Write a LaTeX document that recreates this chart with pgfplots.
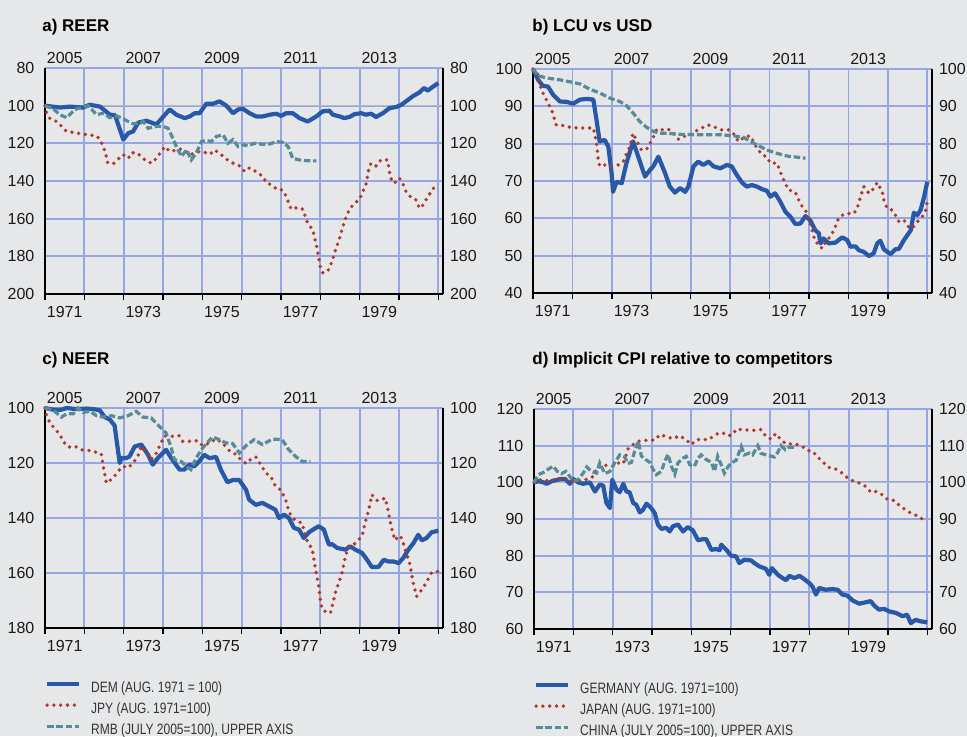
\documentclass[border=0pt]{standalone}
\usepackage{pgfplots}
\pgfplotsset{compat=1.18}
\usepackage{fontspec}
\setmainfont{Liberation Sans}
\newfontfamily\condensed[FakeStretch=0.8]{Liberation Sans}

\definecolor{bgc}{RGB}{230,231,233}
\definecolor{gridc}{RGB}{150,165,227}
\definecolor{demblue}{RGB}{40,88,168}
\definecolor{jpyred}{RGB}{178,56,44}
\definecolor{rmbteal}{RGB}{86,140,152}

\pgfplotsset{
  panel/.style={
    scale only axis, width=199pt,
    xmin=0, xmax=10.12, clip=false,
    /pgf/number format/assume math mode=true,
    tick label style={font=\fontsize{8}{9}\selectfont, text=black!90},
  },
  lower/.style={
    panel,
    axis x line*=bottom, axis y line*=left,
    axis line style={black, line width=0.7pt},
    xtick={0,1,2,3,4,5,6,7,8,9,10}, xticklabels={},
    tick align=outside, major tick length=3pt,
    xtick style={black, line width=0.7pt},
    ytick style={draw=none},
    xmajorgrids, ymajorgrids,
    grid style={gridc, line width=0.9pt},
    extra x ticks={0.5,2.5,4.5,6.5,8.5},
    extra x tick labels={1971,1973,1975,1977,1979},
    extra x tick style={major tick length=0pt, grid=none, xticklabel style={yshift=-2.5pt}},
    yticklabel style={xshift=1.2pt},
    title style={inner sep=0pt, anchor=base west, font=\bfseries\fontsize{8.5}{10}\selectfont},
  },
  upper/.style={
    panel,
    axis x line*=top, axis y line*=right,
    x axis line style={draw=none},
    y axis line style={black, line width=0.7pt},
    xtick={0.5,2.5,4.5,6.5,8.5},
    xticklabels={2005,2007,2009,2011,2013},
    xticklabel style={yshift=-1.5pt},
    major tick length=0pt,
    xtick style={draw=none}, ytick style={draw=none},
  },
  leg/.style={
    legend style={at={(0,-0.245)}, anchor=north west, draw=none, fill=none,
      inner sep=0pt, outer sep=0pt, row sep=3.7pt, column sep=5pt,
      font=\condensed\fontsize{7.5}{8}\selectfont, text=black!80,
      nodes={inner sep=0pt, text height=5.2pt, text depth=1.6pt}},
    legend cell align=left,
    legend image code/.code={\draw[##1] (0pt,2.5pt) -- (16pt,2.5pt);},
  },
  dem/.style={demblue, line width=2.1pt, line join=round},
  jpy/.style={jpyred, line width=1.9pt, line cap=round, dash pattern=on 0pt off 3.4pt},
  rmb/.style={rmbteal, line width=1.6pt, dash pattern=on 3.2pt off 1.4pt},
}

\begin{document}
\begin{tikzpicture}
\fill[bgc] (0,0) rectangle (483.5pt,368pt);
\path[use as bounding box] (0,0) rectangle (483.5pt,368pt);

% ---------------- a) REER
\begin{axis}[lower, at={(22.5pt,221pt)}, anchor=south west, height=113pt,
  ymin=80, ymax=200, y dir=reverse, ytick={80,100,...,200},
  extra y ticks={100}, extra y tick labels={}, extra y tick style={grid style={gray!55, line width=0.8pt}},
  title={a) REER}, title style={at={(0,1)}, yshift=12.5pt, xshift=-1.5pt}]
\addplot[dem] coordinates {(0,100) (0.38,101) (0.63,100.5) (0.97,101) (1.14,99.5) (1.40,100.5) (1.65,104.8) (1.78,105) (1.99,118) (2.12,114.6) (2.24,113.7) (2.37,109) (2.58,108) (2.71,109) (2.83,110) (3.17,102) (3.34,104.8) (3.55,106.6) (3.68,105.7) (3.81,104) (3.93,104) (4.10,99) (4.27,99) (4.44,97.7) (4.61,100) (4.78,104) (4.91,102) (5.03,101.6) (5.20,104) (5.37,105.7) (5.54,105.7) (5.71,104.8) (5.88,104.3) (6.01,105.4) (6.13,104) (6.30,104) (6.47,106.6) (6.68,108.4) (6.90,105.7) (7.06,103) (7.23,102.7) (7.32,104.8) (7.49,105.7) (7.61,106.6) (7.74,106) (7.87,104.5) (8.04,104) (8.16,104.8) (8.29,104.3) (8.42,106) (8.59,104) (8.76,101.3) (8.93,100.7) (9.05,99.7) (9.18,97.7) (9.35,95) (9.52,93) (9.64,90.6) (9.73,92) (9.86,90) (10.0,88)};
\addplot[jpy] coordinates {(0,100) (0.04,103.6) (0.13,107) (0.30,108.4) (0.42,111) (0.55,113.7) (0.72,114.2) (0.93,115) (1.10,115.5) (1.31,116) (1.40,118) (1.48,121.7) (1.55,126) (1.58,130) (1.73,131) (1.86,128.4) (1.99,126) (2.12,128) (2.20,125) (2.33,125) (2.45,127) (2.58,129.6) (2.71,130.5) (2.83,128) (2.96,124.3) (3.05,121.7) (3.17,124.3) (3.30,123.8) (3.43,123) (3.55,123.8) (3.68,126) (3.93,124.3) (4.06,124.8) (4.19,125.8) (4.31,123.5) (4.48,126) (4.61,128.4) (4.78,130.5) (4.95,132) (5.08,135) (5.20,133) (5.37,135) (5.54,137.6) (5.63,141) (5.75,142) (5.92,144.7) (6.03,144.7) (6.13,148) (6.26,155) (6.43,154) (6.56,155) (6.62,159) (6.68,162.4) (6.81,166) (6.90,174) (6.96,181) (7.00,185.5) (7.06,188.7) (7.19,188) (7.28,183.7) (7.36,178.4) (7.49,170.4) (7.61,161.6) (7.74,155) (7.87,151.8) (7.99,150) (8.08,145.6) (8.16,142) (8.23,134) (8.29,130.5) (8.42,132) (8.54,128.8) (8.71,128.8) (8.77,136.7) (8.84,141) (8.93,140.5) (9.01,138.5) (9.09,141) (9.18,145.6) (9.31,148.8) (9.43,150) (9.52,154.5) (9.62,152.6) (9.73,148.3) (9.86,144.7) (9.94,141)};
\addplot[rmb] coordinates {(0,100) (0.21,101.7) (0.38,104.8) (0.55,106.4) (0.68,103.7) (0.76,102) (0.93,101) (1.10,100) (1.31,104.8) (1.48,104) (1.65,106.4) (1.82,105.5) (1.95,106.6) (2.12,108.4) (2.24,109.6) (2.41,109.3) (2.50,108.4) (2.62,112) (2.83,111) (3.00,111) (3.13,112) (3.21,115.5) (3.34,121.7) (3.47,127) (3.60,123.4) (3.72,128.8) (3.85,125) (3.98,119) (4.10,118.5) (4.23,119) (4.36,116.3) (4.53,115.5) (4.65,120) (4.78,118) (4.91,121.7) (5.03,120.8) (5.16,121.3) (5.33,120) (5.54,120.5) (5.71,120.4) (5.88,119) (6.05,119.5) (6.18,121.7) (6.30,128) (6.47,128.8) (6.60,129.1) (6.77,129.3) (6.90,129.3)};
\end{axis}
\begin{axis}[upper, at={(22.5pt,221pt)}, anchor=south west, height=113pt,
  ymin=80, ymax=200, y dir=reverse, ytick={80,100,...,200}]
\end{axis}

% ---------------- b) LCU vs USD
\begin{axis}[lower, at={(266.5pt,221.5pt)}, anchor=south west, width=199.5pt, height=112pt,
  ymin=40, ymax=100, ytick={40,50,...,100},
  title={b) LCU vs USD}, title style={at={(0,1)}, yshift=13pt, xshift=-0.5pt}]
\addplot[dem] coordinates {(0,100) (0.13,97.1) (0.25,95.5) (0.38,95.3) (0.51,93.1) (0.68,91.3) (0.85,91.2) (1.02,90.7) (1.19,91.8) (1.36,92) (1.53,91.8) (1.61,86.4) (1.69,80.6) (1.82,81) (1.91,79.2) (1.99,72.5) (2.03,67.1) (2.12,69.8) (2.25,69.4) (2.37,74.8) (2.54,80.6) (2.67,76.5) (2.84,71.2) (2.97,73) (3.05,73.9) (3.18,76.5) (3.35,72.1) (3.47,68.5) (3.60,66.9) (3.73,68.1) (3.86,67.1) (3.94,68.5) (4.07,73.9) (4.19,75.2) (4.32,74.3) (4.45,75.2) (4.58,73.9) (4.75,73.4) (4.92,74.3) (5.04,73.9) (5.17,71.6) (5.30,69.6) (5.42,68.5) (5.55,68.9) (5.68,68.5) (5.81,67.8) (5.93,67.4) (6.02,65.8) (6.14,66.7) (6.27,64.5) (6.40,61.8) (6.53,60.4) (6.65,58.5) (6.78,58.6) (6.91,60.6) (7.03,59.5) (7.16,56.8) (7.25,56) (7.29,53.3) (7.37,54.6) (7.50,53.3) (7.67,53.5) (7.84,54.9) (7.97,54.2) (8.05,52.4) (8.18,52.5) (8.26,51.5) (8.39,51) (8.52,49.9) (8.64,50.6) (8.73,53.3) (8.81,54) (8.90,51.7) (9.07,50.4) (9.19,51.7) (9.28,51.8) (9.41,54.2) (9.58,56.8) (9.66,61.5) (9.75,60.9) (9.83,62.2) (9.92,65.8) (10.0,69.8)};
\addplot[jpy] coordinates {(0,100) (0.13,98.5) (0.21,94.4) (0.38,90.9) (0.47,89.1) (0.59,85) (0.81,84.8) (0.97,84.3) (1.19,84.2) (1.36,84.2) (1.53,84.2) (1.57,82.4) (1.61,80.1) (1.65,76.1) (1.69,74) (1.82,74.3) (1.99,74) (2.16,74.3) (2.29,75.2) (2.37,77.3) (2.46,79.2) (2.53,82.8) (2.58,81.9) (2.67,79.9) (2.75,78.3) (2.88,78.5) (2.97,80.1) (3.05,81.7) (3.14,83.9) (3.31,83.7) (3.43,83.9) (3.56,82.8) (3.69,81.2) (3.81,81.9) (3.98,82.4) (4.11,83.3) (4.28,84.2) (4.45,85) (4.58,84.6) (4.75,83.7) (4.96,83.7) (5.08,82.8) (5.21,80.6) (5.38,81.9) (5.51,82.1) (5.68,78.8) (5.81,77) (5.93,76.5) (6.02,74.8) (6.19,74.8) (6.31,71.4) (6.40,69.4) (6.48,67.6) (6.65,67.1) (6.74,64.9) (6.82,63.3) (6.91,62.2) (6.99,60) (7.08,56.8) (7.16,53.7) (7.25,53.1) (7.33,51.9) (7.42,53.7) (7.54,55.1) (7.63,56.8) (7.75,60) (7.88,61.1) (8.01,61.3) (8.14,61.3) (8.22,62.7) (8.32,66.2) (8.39,68.5) (8.52,66.7) (8.64,68) (8.73,69.6) (8.86,67.1) (8.90,64.9) (8.98,62.7) (9.11,62.2) (9.19,60.9) (9.28,59.1) (9.41,59.5) (9.53,57.6) (9.62,57.3) (9.75,59.1) (9.87,60.4) (9.96,62.2) (10.0,64.5)};
\addplot[rmb] coordinates {(0,100) (0.13,98.2) (0.34,97.6) (0.68,97.1) (1.02,96.4) (1.19,96) (1.44,94.6) (1.69,93.6) (1.95,92.2) (2.20,91.3) (2.37,90.2) (2.54,88.2) (2.71,85.9) (2.88,84.4) (3.05,83.3) (3.22,82.8) (3.39,82.8) (3.73,82.5) (4.07,82.4) (4.41,82.4) (4.75,82.4) (5.08,82.1) (5.34,81.7) (5.51,80.6) (5.68,79.7) (5.93,78.3) (6.19,77.4) (6.44,76.7) (6.69,76.4) (6.91,76.1)};
\end{axis}
\begin{axis}[upper, at={(266.5pt,221.5pt)}, anchor=south west, width=199.5pt, height=112pt,
  ymin=40, ymax=100, ytick={40,50,...,100}]
\end{axis}

% ---------------- c) NEER
\begin{axis}[lower, leg, at={(22.5pt,54pt)}, anchor=south west, height=110pt,
  ymin=100, ymax=180, y dir=reverse, ytick={100,120,...,180},
  title={c) NEER}, title style={at={(0,1)}, yshift=16pt, xshift=-1.5pt}]
\addplot[dem] coordinates {(0,100) (0.21,100.6) (0.42,100.6) (0.55,100) (0.80,100.4) (1.05,100.2) (1.22,100.4) (1.39,100.8) (1.52,103.3) (1.65,104.2) (1.77,106.4) (1.90,120) (1.94,118.2) (2.07,118.2) (2.15,117.6) (2.28,114) (2.45,113.3) (2.62,117) (2.74,120.6) (2.87,118.2) (3.08,115.2) (3.21,118.2) (3.42,122.4) (3.54,122.4) (3.67,120.6) (3.80,121.2) (3.92,119.4) (4.05,117) (4.18,118.2) (4.35,117.8) (4.47,122.4) (4.64,127) (4.77,126.2) (4.94,126.2) (5.11,129.7) (5.19,133.3) (5.36,135.2) (5.53,134.5) (5.70,135.8) (5.86,137) (5.95,140) (6.08,138.8) (6.20,140) (6.33,143.6) (6.46,144.2) (6.58,147.3) (6.71,145.2) (6.84,144) (6.96,143) (7.09,144.2) (7.22,149.7) (7.30,149.5) (7.43,150.9) (7.64,151.5) (7.76,150.3) (7.89,151.5) (8.06,152.7) (8.19,155.2) (8.31,157.8) (8.48,157.8) (8.61,155.2) (8.73,155.8) (8.86,155.8) (8.99,156.4) (9.11,154.5) (9.24,151.5) (9.37,149.1) (9.49,146.1) (9.58,148.1) (9.70,147.3) (9.83,145.2) (10.0,144.6)};
\addlegendentry{DEM (AUG. 1971 = 100)}
\addplot[jpy] coordinates {(0,100) (0.04,102.8) (0.13,105.5) (0.25,107.5) (0.38,109.7) (0.46,112.1) (0.59,114.2) (0.76,113.9) (0.93,115.2) (1.10,115.4) (1.31,116.1) (1.43,116.6) (1.49,121.8) (1.56,127.3) (1.73,125.5) (1.86,123) (1.98,121.2) (2.11,121.8) (2.24,120) (2.36,117.6) (2.45,113.9) (2.57,116.4) (2.70,118.8) (2.83,116.4) (2.95,112.7) (3.04,110.1) (3.16,110.3) (3.42,110.1) (3.50,112.1) (3.67,112.1) (3.88,111.9) (4.01,113.7) (4.18,112.7) (4.35,111.3) (4.51,112.7) (4.68,115.4) (4.81,116.4) (4.94,118.2) (5.11,120.2) (5.27,118.2) (5.36,117.8) (5.49,120.6) (5.61,123.6) (5.74,124.8) (5.86,128.5) (5.99,129.7) (6.12,133.3) (6.20,137.6) (6.29,140) (6.41,141.2) (6.54,141.8) (6.62,146.7) (6.71,149.7) (6.79,150.9) (6.88,158.8) (6.96,164.8) (7.00,169.7) (7.05,173.3) (7.17,174.3) (7.26,174.5) (7.30,172.1) (7.38,167.3) (7.47,163.6) (7.55,160) (7.64,153.9) (7.72,150.3) (7.85,149.7) (7.97,147.9) (8.06,146.7) (8.14,141.8) (8.23,137) (8.31,131.5) (8.44,133.6) (8.57,133.3) (8.65,132.7) (8.73,137.6) (8.80,143) (8.90,148.1) (8.99,146.4) (9.07,147.3) (9.16,151.5) (9.28,157) (9.37,164.2) (9.45,168.5) (9.58,166.1) (9.70,163.4) (9.83,159.8) (10.0,159.4)};
\addlegendentry{JPY (AUG. 1971=100)}
\addplot[rmb] coordinates {(0,100) (0.21,100.8) (0.42,103.3) (0.55,102.1) (0.72,102.1) (0.84,100) (0.97,101.6) (1.14,101.2) (1.31,102.8) (1.48,103.3) (1.69,102.8) (1.90,103.6) (2.11,102.8) (2.32,101.2) (2.49,103.3) (2.70,103.6) (2.91,106.7) (3.08,109.1) (3.21,114.5) (3.29,118.8) (3.46,119.4) (3.59,121.2) (3.71,122.4) (3.84,118.2) (4.01,114.5) (4.26,110.5) (4.43,111.5) (4.60,112.7) (4.77,112.9) (4.94,116.4) (5.11,113.7) (5.32,111.5) (5.53,113.3) (5.78,111.3) (6.03,111.5) (6.20,115.2) (6.37,117.6) (6.54,119.4) (6.75,119.4)};
\addlegendentry{RMB (JULY 2005=100), UPPER AXIS}
\end{axis}
\begin{axis}[upper, at={(22.5pt,54pt)}, anchor=south west, height=110pt,
  ymin=100, ymax=180, y dir=reverse, ytick={100,120,...,180}]
\end{axis}

% ---------------- d) Implicit CPI
\begin{axis}[lower, leg, at={(267pt,53.5pt)}, anchor=south west, height=110pt,
  ymin=60, ymax=120, ytick={60,70,...,120},
  extra y ticks={100}, extra y tick labels={}, extra y tick style={grid style={gray!55, line width=0.8pt}},
  title={d) Implicit CPI relative to competitors}, title style={at={(0,1)}, yshift=16.5pt, xshift=-1pt}]
\addplot[dem] coordinates {(0,100) (0.11,100.3) (0.24,100) (0.32,99.6) (0.45,100.3) (0.66,100.9) (0.79,100.9) (0.91,99.6) (1.00,100.9) (1.12,100) (1.25,99.6) (1.42,100) (1.55,97.5) (1.67,99.4) (1.76,99.1) (1.84,94.4) (1.93,93) (1.99,100.7) (2.10,98) (2.18,97.3) (2.27,99.6) (2.35,97.5) (2.43,97.3) (2.52,94.4) (2.60,93.9) (2.69,91.8) (2.77,92.5) (2.86,94.2) (2.98,93) (3.07,91.6) (3.15,88.5) (3.24,87.3) (3.36,87.6) (3.45,86.6) (3.53,88) (3.66,88.5) (3.79,86.6) (3.91,87.8) (4.04,86.9) (4.17,84.2) (4.29,84.5) (4.38,84.5) (4.51,81.6) (4.63,81.8) (4.72,81.5) (4.76,83) (4.89,81.6) (5.01,80) (5.14,79.8) (5.22,78) (5.35,78.9) (5.52,78.7) (5.60,78) (5.73,77.1) (5.90,76.4) (5.98,74.8) (6.05,76.6) (6.20,74.8) (6.32,73.9) (6.41,73.3) (6.49,74.5) (6.62,73.9) (6.75,74.5) (6.87,73.6) (7.00,72.5) (7.08,71.6) (7.17,69.4) (7.25,71.2) (7.42,70.7) (7.59,70.9) (7.72,70.7) (7.84,69.4) (7.97,69.1) (8.10,67.8) (8.27,66.9) (8.44,67.3) (8.56,67.6) (8.65,66.4) (8.77,65.3) (8.90,65.5) (9.03,64.8) (9.20,64.4) (9.37,63.5) (9.49,63.9) (9.58,61.6) (9.70,62.5) (9.83,62.1) (10.0,61.8)};
\addlegendentry{GERMANY (AUG. 1971=100)}
\addplot[jpy] coordinates {(0,100) (0.11,100.5) (0.24,100.9) (0.36,100.3) (0.53,100.7) (0.74,101.2) (0.91,100.3) (1.08,100.3) (1.25,100.7) (1.38,100.9) (1.50,101.6) (1.63,104.4) (1.76,104.8) (1.89,104.5) (2.01,104.4) (2.14,105.3) (2.27,105.1) (2.39,109.1) (2.52,110.3) (2.65,111.2) (2.81,111.4) (2.94,111.6) (3.07,111.5) (3.20,113) (3.36,112.5) (3.53,111.9) (3.70,112.7) (3.87,111.6) (4.00,110.3) (4.13,111.6) (4.29,111.8) (4.42,111.6) (4.55,112.5) (4.67,113.3) (4.80,113.5) (4.93,112.7) (5.05,113) (5.14,114.5) (5.31,114.4) (5.48,114.2) (5.65,114.2) (5.77,114.4) (5.90,112.5) (6.03,111.8) (6.15,113.3) (6.28,111.6) (6.41,110.5) (6.62,110.5) (6.79,110) (6.96,108.7) (7.08,108.5) (7.21,106.9) (7.34,105.7) (7.46,104.2) (7.68,103.6) (7.84,102.5) (7.97,101.2) (8.10,100.5) (8.27,99.8) (8.44,98.9) (8.56,97.3) (8.69,97.5) (8.86,96.6) (8.99,95.3) (9.15,95.1) (9.30,93.6) (9.45,92.5) (9.60,91.5) (9.79,90.7) (9.94,89.4)};
\addlegendentry{JAPAN (AUG. 1971=100)}
\addplot[rmb] coordinates {(0,100) (0.11,102.1) (0.24,102.7) (0.36,103.6) (0.49,104.4) (0.59,103) (0.70,102.4) (0.81,103) (0.91,101.6) (1.00,100.3) (1.12,100.7) (1.25,102.5) (1.34,104.2) (1.46,103) (1.59,102.5) (1.67,105.3) (1.80,102.4) (1.93,103) (2.05,105.3) (2.18,107.5) (2.31,106.9) (2.39,105.1) (2.48,105.5) (2.56,108.5) (2.65,111.2) (2.73,107.2) (2.81,106.4) (2.94,105.5) (3.03,103.5) (3.11,102.1) (3.24,103) (3.32,105.7) (3.41,107.6) (3.49,104.5) (3.58,102.2) (3.66,105.3) (3.79,106.6) (3.87,107.1) (3.96,104.8) (4.08,104.4) (4.17,106.6) (4.25,107.5) (4.38,106.2) (4.51,105.5) (4.59,103) (4.67,107.1) (4.76,104.8) (4.84,102.5) (4.93,104.2) (5.01,105.3) (5.14,106) (5.27,109.8) (5.35,107.5) (5.48,108) (5.56,107.5) (5.69,110) (5.77,107.9) (5.90,107.5) (5.98,107.3) (6.11,106.9) (6.20,108.2) (6.28,110) (6.39,108.9) (6.49,109.6) (6.62,109.6)};
\addlegendentry{CHINA (JULY 2005=100), UPPER AXIS}
\end{axis}
\begin{axis}[upper, at={(267pt,53.5pt)}, anchor=south west, height=110pt,
  ymin=60, ymax=120, ytick={60,70,...,120}]
\end{axis}
\end{tikzpicture}
\end{document}
